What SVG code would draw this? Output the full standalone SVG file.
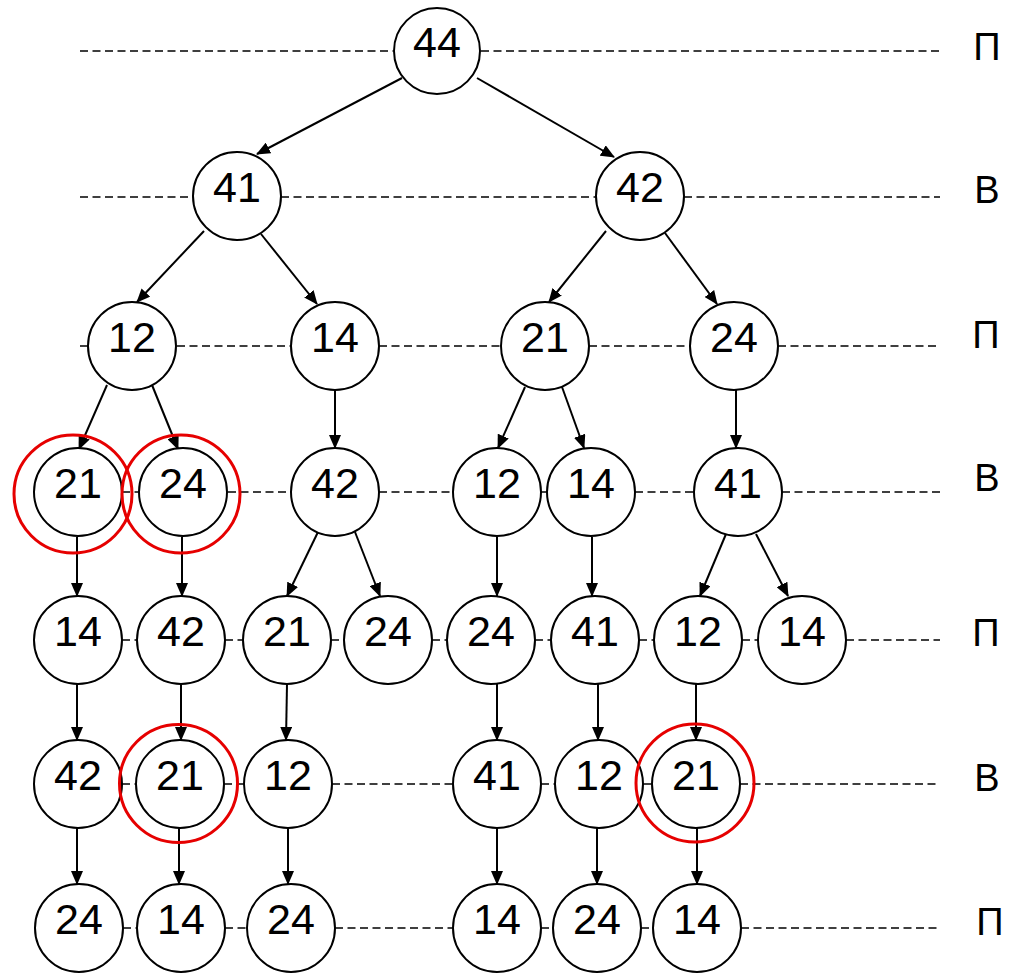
<svg xmlns="http://www.w3.org/2000/svg" width="1015" height="973" viewBox="0 0 1015 973">
  <style>
    .lvl { stroke: #000; stroke-width: 1.6; stroke-dasharray: 8 4.5; fill: none; }
    .edge { stroke: #000; stroke-width: 2; fill: none; marker-end: url(#arrow); }
    .node circle { fill: #fff; stroke: #000; stroke-width: 2; }
    .node text { font-family: "Liberation Sans", Arial, sans-serif; font-size: 43px; text-anchor: middle; fill: #000; }
    .mark { fill: none; stroke: #e60000; stroke-width: 3; }
    .side { font-family: "Liberation Sans", Arial, sans-serif; font-size: 38px; text-anchor: middle; fill: #000; }
  </style>
  <defs>
    <marker id="arrow" markerUnits="userSpaceOnUse" markerWidth="14" markerHeight="12" viewBox="0 0 14 12" refX="13" refY="6" orient="auto">
      <path d="M0,0 L14,6 L0,12 Z" fill="#000"/>
    </marker>
  </defs>
  <rect width="1015" height="973" fill="#fff"/>

  <!-- level guide lines -->
  <g id="levels">
    <path class="lvl" d="M80,51 H393 M481,51 H940"/>
    <path class="lvl" d="M80,197 H193 M281,197 H596 M684,197 H940"/>
    <path class="lvl" d="M80,346 H88 M177,346 H291 M379,346 H501 M589,346 H690 M778,346 H940"/>
    <path class="lvl" d="M122,492 H138 M228,492 H291 M379,492 H453 M541,492 H547 M635,492 H694 M782,492 H940"/>
    <path class="lvl" d="M122,640 H137 M225,640 H243 M331,640 H344 M432,640 H447 M535,640 H551 M639,640 H654 M742,640 H758 M846,640 H940"/>
    <path class="lvl" d="M122,784 H136 M224,784 H244 M332,784 H453 M541,784 H555 M643,784 H652 M740,784 H940"/>
    <path class="lvl" d="M123,928 H137 M225,928 H247 M335,928 H453 M541,928 H553 M641,928 H653 M741,928 H940"/>
  </g>

  <!-- connectors -->
  <g id="connectors">
    <line class="edge" x1="402" y1="78" x2="257" y2="154"/>
    <line class="edge" x1="477" y1="78" x2="614" y2="157"/>
    <line class="edge" x1="204" y1="231" x2="137" y2="302"/>
    <line class="edge" x1="261" y1="234" x2="317" y2="304"/>
    <line class="edge" x1="606" y1="231" x2="549" y2="302"/>
    <line class="edge" x1="665" y1="233" x2="717" y2="304"/>
    <line class="edge" x1="107" y1="385" x2="79" y2="449"/>
    <line class="edge" x1="152" y1="385" x2="178" y2="449"/>
    <line class="edge" x1="335" y1="390" x2="335" y2="448"/>
    <line class="edge" x1="525" y1="387" x2="498" y2="448"/>
    <line class="edge" x1="562" y1="387" x2="584" y2="448"/>
    <line class="edge" x1="736" y1="390" x2="736" y2="448"/>

    <line class="edge" x1="77" y1="537" x2="77" y2="596"/>
    <line class="edge" x1="182" y1="537" x2="182" y2="596"/>
    <line class="edge" x1="318" y1="532" x2="287" y2="596"/>
    <line class="edge" x1="355" y1="532" x2="380" y2="596"/>
    <line class="edge" x1="497" y1="537" x2="497" y2="596"/>
    <line class="edge" x1="592" y1="537" x2="592" y2="596"/>
    <line class="edge" x1="726" y1="534" x2="700" y2="596"/>
    <line class="edge" x1="756" y1="534" x2="788" y2="596"/>

    <line class="edge" x1="77" y1="684" x2="77" y2="740"/>
    <line class="edge" x1="181" y1="684" x2="181" y2="740"/>
    <line class="edge" x1="287" y1="684" x2="286" y2="740"/>
    <line class="edge" x1="497" y1="684" x2="497" y2="740"/>
    <line class="edge" x1="598" y1="684" x2="598" y2="740"/>
    <line class="edge" x1="696" y1="684" x2="696" y2="740"/>

    <line class="edge" x1="77" y1="828" x2="77" y2="884"/>
    <line class="edge" x1="179" y1="828" x2="179" y2="884"/>
    <line class="edge" x1="288" y1="828" x2="288" y2="884"/>
    <line class="edge" x1="497" y1="828" x2="497" y2="884"/>
    <line class="edge" x1="597" y1="828" x2="597" y2="884"/>
    <line class="edge" x1="697" y1="828" x2="697" y2="884"/>
  </g>

  <!-- level 1 -->
  <g id="n44" class="node"><circle cx="437" cy="51" r="43"/><text x="437" y="57">44</text></g>
  <!-- level 2 -->
  <g id="n41a" class="node"><circle cx="237" cy="196" r="44"/><text x="237" y="202">41</text></g>
  <g id="n42a" class="node"><circle cx="640" cy="196" r="44"/><text x="640" y="202">42</text></g>
  <!-- level 3 -->
  <g id="n12a" class="node"><circle cx="132" cy="346" r="44"/><text x="132" y="352">12</text></g>
  <g id="n14a" class="node"><circle cx="335" cy="346" r="44"/><text x="335" y="352">14</text></g>
  <g id="n21a" class="node"><circle cx="545" cy="346" r="44"/><text x="545" y="352">21</text></g>
  <g id="n24a" class="node"><circle cx="734" cy="346" r="44"/><text x="734" y="352">24</text></g>
  <!-- level 4 -->
  <g id="n21b" class="node"><circle cx="78" cy="492" r="44"/><text x="78" y="498">21</text></g>
  <g id="n24b" class="node"><circle cx="183" cy="492" r="44"/><text x="183" y="498">24</text></g>
  <g id="n42b" class="node"><circle cx="335" cy="492" r="44"/><text x="335" y="498">42</text></g>
  <g id="n12b" class="node"><circle cx="497" cy="492" r="44"/><text x="497" y="498">12</text></g>
  <g id="n14b" class="node"><circle cx="591" cy="492" r="44"/><text x="591" y="498">14</text></g>
  <g id="n41b" class="node"><circle cx="738" cy="492" r="44"/><text x="738" y="498">41</text></g>
  <!-- level 5 -->
  <g id="n14c" class="node"><circle cx="78" cy="640" r="44"/><text x="78" y="646">14</text></g>
  <g id="n42c" class="node"><circle cx="181" cy="640" r="44"/><text x="181" y="646">42</text></g>
  <g id="n21c" class="node"><circle cx="287" cy="640" r="44"/><text x="287" y="646">21</text></g>
  <g id="n24c" class="node"><circle cx="388" cy="640" r="44"/><text x="388" y="646">24</text></g>
  <g id="n24d" class="node"><circle cx="491" cy="640" r="44"/><text x="491" y="646">24</text></g>
  <g id="n41c" class="node"><circle cx="595" cy="640" r="44"/><text x="595" y="646">41</text></g>
  <g id="n12c" class="node"><circle cx="698" cy="640" r="44"/><text x="698" y="646">12</text></g>
  <g id="n14d" class="node"><circle cx="802" cy="640" r="44"/><text x="802" y="646">14</text></g>
  <!-- level 6 -->
  <g id="n42d" class="node"><circle cx="78" cy="784" r="44"/><text x="78" y="790">42</text></g>
  <g id="n21d" class="node"><circle cx="180" cy="784" r="44"/><text x="180" y="790">21</text></g>
  <g id="n12d" class="node"><circle cx="288" cy="784" r="44"/><text x="288" y="790">12</text></g>
  <g id="n41d" class="node"><circle cx="497" cy="784" r="44"/><text x="497" y="790">41</text></g>
  <g id="n12e" class="node"><circle cx="599" cy="784" r="44"/><text x="599" y="790">12</text></g>
  <g id="n21e" class="node"><circle cx="696" cy="784" r="44"/><text x="696" y="790">21</text></g>
  <!-- level 7 -->
  <g id="n24e" class="node"><circle cx="79" cy="928" r="44"/><text x="79" y="934">24</text></g>
  <g id="n14e" class="node"><circle cx="181" cy="928" r="44"/><text x="181" y="934">14</text></g>
  <g id="n24f" class="node"><circle cx="291" cy="928" r="44"/><text x="291" y="934">24</text></g>
  <g id="n14f" class="node"><circle cx="497" cy="928" r="44"/><text x="497" y="934">14</text></g>
  <g id="n24g" class="node"><circle cx="597" cy="928" r="44"/><text x="597" y="934">24</text></g>
  <g id="n14g" class="node"><circle cx="697" cy="928" r="44"/><text x="697" y="934">14</text></g>

  <!-- highlight rings -->
  <g id="highlights">
    <circle class="mark" cx="73" cy="494" r="59"/>
    <circle class="mark" cx="181" cy="494" r="59"/>
    <circle class="mark" cx="178.5" cy="783.5" r="59"/>
    <circle class="mark" cx="695" cy="783" r="59"/>
  </g>

  <!-- level labels -->
  <g id="labels">
    <text class="side" x="987" y="60">П</text>
    <text class="side" x="987" y="203">В</text>
    <text class="side" x="986" y="348">П</text>
    <text class="side" x="987" y="491">В</text>
    <text class="side" x="986" y="646">П</text>
    <text class="side" x="987" y="791">В</text>
    <text class="side" x="990" y="935">П</text>
  </g>
</svg>
